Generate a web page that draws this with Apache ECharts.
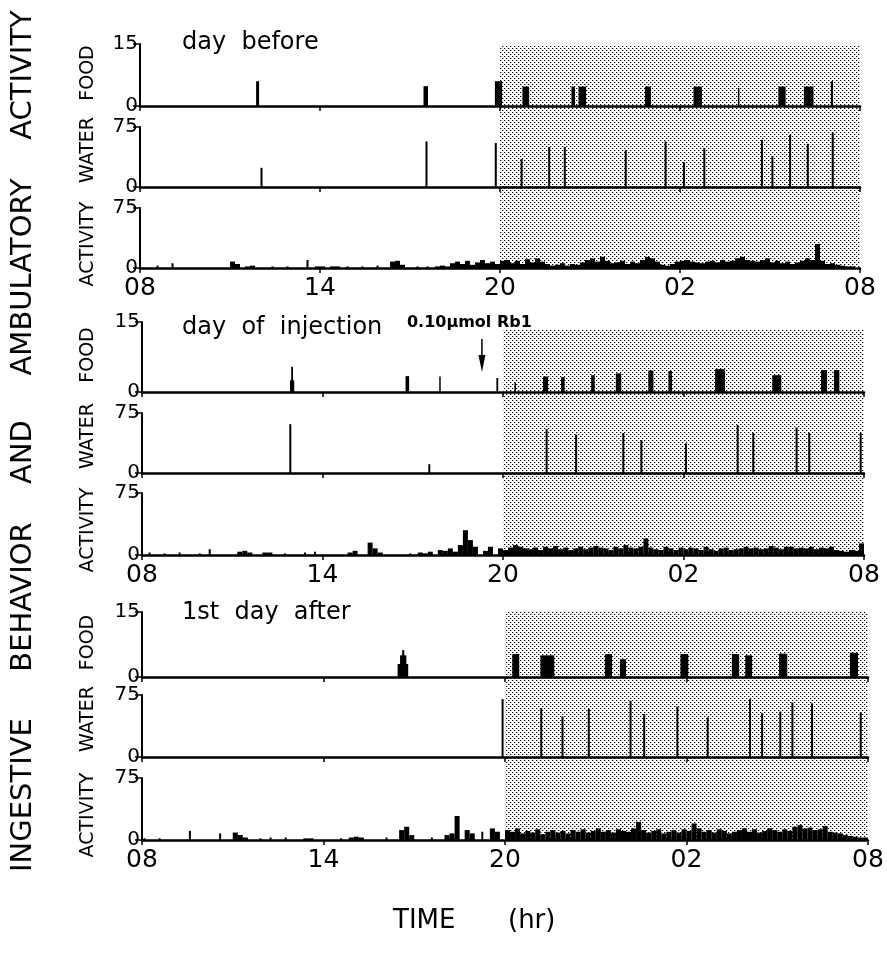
<!DOCTYPE html>
<html><head><meta charset="utf-8">
<script src="https://cdn.jsdelivr.net/npm/echarts@6/dist/echarts.min.js"></script>
<style>html,body{margin:0;padding:0;background:#fff}#c{width:887px;height:958px}</style>
</head><body><div id="c"></div>
<script>
// ---------- DATA (hours after 08:00) ----------
const tickLabels = ['08','14','20','02','08'];
const darkStart = 12, darkEnd = 24;
const injectionHour = 11.3;
const injectionLabel = '0.10\u00b5mol Rb1';
const panelTitles = ['day  before','day  of  injection','1st  day  after'];
const rowNames = ['FOOD','WATER','ACTIVITY'];
const rowMax = [15,75,75];
const sideWords = ['ACTIVITY','AMBULATORY','AND','BEHAVIOR','INGESTIVE'];
const timeWord = 'TIME', timeUnit = '(hr)';
const binHours = 1/6;

// food bouts: [start h, end h, amount]
const food1 = [[3.87,3.97,6],[9.45,9.6,4.8],[11.83,12.07,6],[12.75,12.97,4.7],[14.38,14.5,4.7],[14.62,14.87,4.7],
  [16.83,17.03,4.7],[18.45,18.73,4.7],[19.93,19.98,4.4],[21.28,21.52,4.7],[22.13,22.45,4.7],[23.03,23.1,6]];
const food2 = [[4.92,5.06,2.5],[4.96,5.02,5.4],[8.76,8.88,3.4],[9.88,9.93,3.3],[11.78,11.84,3],[12.38,12.42,2],
  [13.33,13.5,3.3],[13.93,14.05,3.2],[14.93,15.05,3.6],[15.75,15.93,4],[16.83,17.0,4.6],[17.5,17.62,4.5],
  [19.05,19.38,4.9],[20.95,21.25,3.6],[22.57,22.77,4.7],[23.0,23.18,4.7]];
const food3 = [[8.45,8.8,3],[8.53,8.74,5],[8.6,8.67,6.2],[12.24,12.47,5.3],[13.17,13.63,5],[15.3,15.54,5.3],
  [15.8,16.0,4.1],[17.8,18.06,5.3],[19.5,19.74,5.3],[19.94,20.17,5],[21.06,21.33,5.4],[23.4,23.67,5.6]];

// water drinks: [time h, amount]
const water1 = [[4.05,24],[9.55,57],[11.86,55],[12.72,35],[13.64,50],[14.16,50],[16.19,46],[17.52,57],[18.13,31],
  [18.81,49],[20.73,59],[21.08,39],[21.67,65],[22.26,54],[23.09,68]];
const water2 = [[4.93,61],[9.55,11],[13.45,55],[14.43,48],[16.0,50],[16.6,41],[18.08,37],[19.8,60],[20.32,50],
  [21.76,57],[22.18,50],[23.89,50]];
const water3 = [[11.92,70],[13.2,59],[13.9,49],[14.77,58],[16.15,68],[16.6,52],[17.7,61],[18.7,48],[20.1,70],
  [20.5,53],[21.1,55],[21.5,66],[22.15,65],[23.76,54]];

// ambulatory activity, 10-min bins from 08:00
const act1 = [
 0,0,0,3,0,0,6,0,0,0,0,0,
 0,0,0,0,0,0,8,5,0,2,3,0,
 0,0,2,0,0,2,0,0,0,10,0,2,
 2,0,2,2,0,2,0,0,2,0,0,3,
 0,0,8,9,4,0,0,2,0,2,0,2,
 3,2,6,8,5,9,4,7,10,6,8,5,
 9,10,6,9,5,11,7,12,8,5,3,4,
 6,3,5,4,7,10,12,8,14,9,6,7,
 9,5,8,6,10,14,12,8,4,3,5,8,
 9,10,8,7,6,8,9,7,10,8,9,12,
 14,10,9,8,10,12,7,9,6,8,5,7,
 9,12,10,30,9,5,6,4,3,2,2,0];
const act2 = [
 0,3,0,0,2,0,0,3,0,0,0,2,
 0,7,0,0,0,0,0,4,5,3,0,0,
 3,3,0,0,2,0,0,0,3,0,4,0,
 0,0,0,0,0,3,5,0,0,15,8,3,
 0,0,0,0,0,2,0,3,2,4,0,6,
 5,8,4,12,30,18,10,0,5,10,0,8,
 6,9,12,10,8,7,9,6,10,8,11,7,
 9,6,8,10,7,9,11,9,8,6,10,8,
 12,9,8,10,20,9,7,6,10,8,6,9,
 7,9,8,6,10,7,5,8,9,6,7,8,
 10,8,9,7,8,11,9,7,10,10,8,9,
 8,10,7,9,8,10,6,5,4,6,5,14];
const act3 = [
 2,0,0,2,0,0,0,0,0,11,0,0,
 0,0,0,8,0,0,9,6,3,0,0,2,
 0,3,0,0,3,0,0,0,2,2,0,0,
 0,0,0,2,0,3,4,3,0,0,0,0,
 3,0,0,12,16,6,0,0,0,3,0,0,
 6,8,29,0,12,8,0,10,0,14,10,0,
 12,10,14,8,11,9,13,7,10,12,9,11,
 8,12,10,13,9,11,14,10,12,9,13,11,
 10,14,22,12,9,11,13,8,10,12,9,13,
 11,20,14,10,12,9,13,11,8,10,12,14,
 10,13,9,11,14,12,10,13,11,16,18,14,
 15,12,13,17,10,9,8,6,5,4,3,3];

const foods = [food1, food2, food3];
const waters = [water1, water2, water3];
const acts = [act1, act2, act3];

// ---------- LAYOUT ----------
const FONT = 'DejaVu Sans';
const panels = [
  {left:140, width:720, rows:[[44,62],[127,60],[208,60]], shade:[45,268], title:[182,43]},
  {left:142, width:722, rows:[[322,70],[413,60],[493,62]], shade:[330,555], title:[182,328]},
  {left:142, width:726, rows:[[612,65],[695,62],[778,62]], shade:[612,840], title:[182,613]}
];
const nameShift = [-2, -7, 6];
const sideY = [75,277,452,597,795];

// stipple pattern for the dark period
const pc = document.createElement('canvas'); pc.width = 4; pc.height = 4;
const g = pc.getContext('2d');
g.fillStyle = '#fff'; g.fillRect(0,0,4,4);
g.fillStyle = '#000'; g.fillRect(0,0,1,1); g.fillRect(2,2,1,1);
g.fillStyle = '#b4b4b4'; g.fillRect(1,0,1,1); g.fillRect(3,2,1,1);
const stipple = {image: pc, repeat: 'repeat'};

const grid = [], xAxis = [], yAxis = [], series = [];
panels.forEach((p, pi) => {
  p.rows.forEach((r, ri) => {
    const gi = pi*3 + ri;
    grid.push({left:p.left, width:p.width, top:r[0], height:r[1], containLabel:false});
    xAxis.push({type:'value', gridIndex:gi, min:0, max:24, interval:6, z:5,
      axisLine:{show:true, onZero:false, lineStyle:{color:'#000', width:2.5}},
      axisTick:{show:true, length:5, lineStyle:{color:'#000', width:1.5}},
      splitLine:{show:false},
      axisLabel:{show: ri===2, color:'#000', fontSize:25, fontFamily:FONT, margin:8,
        formatter: v => tickLabels[Math.round(v/6)]}
    });
    yAxis.push({type:'value', gridIndex:gi, min:0, max:rowMax[ri], interval:rowMax[ri], z:5,
      axisLine:{show:true, lineStyle:{color:'#000', width:2}},
      axisTick:{show:true, length:7, lineStyle:{color:'#000', width:1.5}},
      splitLine:{show:false},
      axisLabel:{color:'#000', fontSize:20, fontFamily:FONT, margin:2}
    });
    if (ri === 0) {
      series.push({type:'custom', xAxisIndex:gi, yAxisIndex:gi, z:3, data: foods[pi],
        renderItem:(params, api) => {
          const a = api.coord([api.value(0), api.value(2)]);
          const b = api.coord([api.value(1), 0]);
          return {type:'rect', shape:{x:a[0], y:a[1], width:Math.max(b[0]-a[0],1.5), height:b[1]-a[1]},
            style:{fill:'#000'}};
        }});
    } else if (ri === 1) {
      series.push({type:'bar', xAxisIndex:gi, yAxisIndex:gi, z:3, barWidth:2, data: waters[pi],
        itemStyle:{color:'#000'}, animation:false});
    } else {
      const arr = acts[pi];
      series.push({type:'custom', xAxisIndex:gi, yAxisIndex:gi, z:3,
        data: arr.map((v,k) => [k*binHours, (k+1)*binHours, v, (arr[k-1]||0) > 0 || (arr[k+1]||0) > 0 ? 1 : 0]),
        renderItem:(params, api) => {
          const v = api.value(2);
          if (!v) return null;
          const a = api.coord([api.value(0), v]);
          const b = api.coord([api.value(1), 0]);
          let x = a[0], w = b[0]-a[0];
          if (!api.value(3)) { x = x + w/2 - 1; w = 2; }
          return {type:'rect', shape:{x, y:a[1], width:w, height:b[1]-a[1]}, style:{fill:'#000'}};
        }});
    }
  });
});
// shading grids
panels.forEach((p, pi) => {
  const gi = 9 + pi;
  grid.push({left:p.left, width:p.width, top:p.shade[0], height:p.shade[1]-p.shade[0]});
  xAxis.push({type:'value', gridIndex:gi, min:0, max:24, show:false});
  yAxis.push({type:'value', gridIndex:gi, min:0, max:1, show:false});
  series.push({type:'custom', xAxisIndex:gi, yAxisIndex:gi, z:1, data:[[darkStart, darkEnd]],
    renderItem:(params, api) => {
      const a = api.coord([api.value(0), 1]);
      const b = api.coord([api.value(1), 0]);
      return {type:'rect', shape:{x:a[0], y:a[1], width:b[0]-a[0], height:b[1]-a[1]}, style:{fill:stipple}};
    }});
});

const chart = echarts.init(document.getElementById('c'), null, {renderer:'canvas'});
chart.setOption({animation:false, backgroundColor:'#fff', grid, xAxis, yAxis, series});

// ---------- text & annotation ----------
const graphic = [];
function txt(t, x, y, size, opts) {
  return Object.assign({type:'text', x, y, z:10, style:{text:t, font: size+'px "'+FONT+'"', fill:'#000',
    textAlign:'left', textVerticalAlign:'middle', align:'left', verticalAlign:'middle'}}, opts||{});
}
function vtxt(t, x, y, size) {
  const o = txt(t, x, y, size, {rotation: Math.PI/2});
  o.style.textAlign = 'center'; o.style.align = 'center';
  return o;
}
panels.forEach((p, pi) => {
  graphic.push(txt(panelTitles[pi], p.title[0], p.title[1], 24));
  p.rows.forEach((r, ri) => graphic.push(vtxt(rowNames[ri], 88, r[0] + r[1]/2 + nameShift[ri], 19)));
});
sideWords.forEach((w, i) => graphic.push(vtxt(w, 23, sideY[i], 29)));
graphic.push(txt(timeWord, 393, 921, 26));
graphic.push(txt(timeUnit, 508, 921, 26));
const ax = chart.convertToPixel({xAxisIndex:3}, injectionHour);
const lab = txt(injectionLabel, ax - 75, 323, 16);
lab.style.font = 'bold 16px "' + FONT + '"';
graphic.push(lab);
graphic.push({type:'line', z:10, shape:{x1:ax, y1:339, x2:ax, y2:360}, style:{stroke:'#000', lineWidth:1.5}});
graphic.push({type:'polygon', z:10, shape:{points:[[ax-3.5,355],[ax+3.5,355],[ax,372]]}, style:{fill:'#000'}});
chart.setOption({graphic});
</script></body></html>
